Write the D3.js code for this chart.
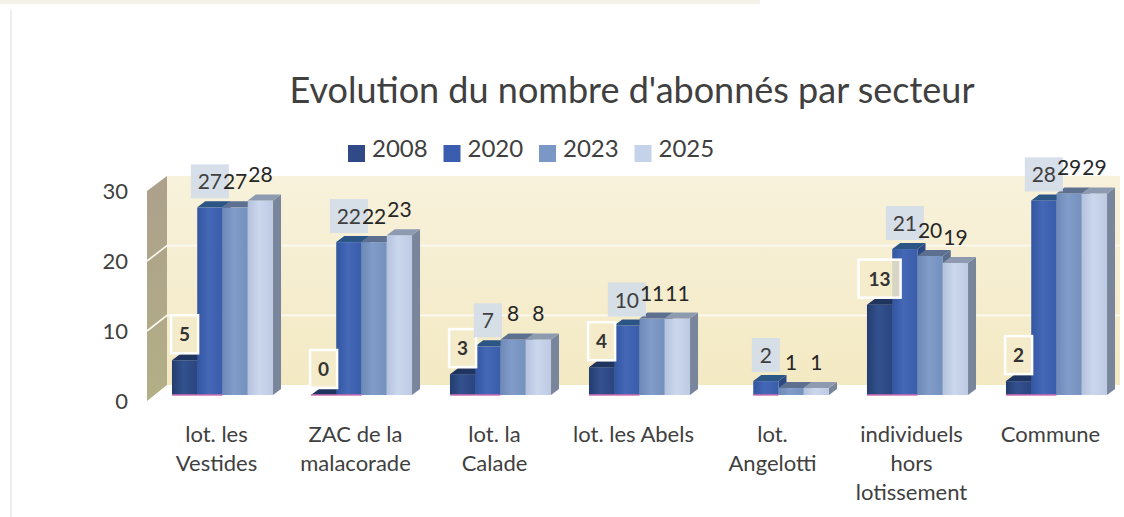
<!DOCTYPE html>
<html>
<head>
<meta charset="utf-8">
<script src="https://cdn.jsdelivr.net/npm/d3@7"></script>
<style>
    html, body { margin: 0; padding: 0; background: #fff; }
    svg { display: block; font-family: Lato, "Open Sans", sans-serif; }
</style>
</head>
<body>
<div id="chart"></div>
<script>
// données
const title = "Evolution du nombre d'abonnés par secteur";
const categories = ['lot. les\nVestides', 'ZAC de la\nmalacorade', 'lot. la\nCalade', 'lot. les Abels',
    'lot.\nAngelotti', 'individuels\nhors\nlotissement', 'Commune'];
const years = ['2008', '2020', '2023', '2025'];
const values2008 = [5, 0, 3, 4, null, 13, 2];
const values2020 = [27, 22, 7, 10, 2, 21, 28];
const values2023 = [27, 22, 8, 11, 1, 20, 29];
const values2025 = [28, 23, 8, 11, 1, 19, 29];
const yTicks = [0, 10, 20, 30];

const seriesValues = [values2008, values2020, values2023, values2025];

// couleurs par série : [face avant (dégradé), dessus, côté]
const seriesStyle = [
    {front: ['#243d70', '#33518e', '#2a4580'], top: '#1f3560', side: '#1c2f55', label: 'box', base: true},
    {front: ['#3356a2', '#4468b6', '#3a5dab'], top: '#2a5584', side: '#2c4984', label: 'fill', base: true},
    {front: ['#6d89b7', '#819cc9', '#7490bd'], top: '#5e708f', side: '#5b6d8d', label: 'plain', base: false},
    {front: ['#b4c2dd', '#cbd7ec', '#bdcae3'], top: '#8d9ab0', side: '#79859b', label: 'plain', base: false}
];
const legendColors = ['#2f4a86', '#3a5db0', '#7a97c6', '#c5d3ea'];

const width = 1124;
const height = 517;
const textColor = '#404040';
const depth = {x: 8, y: -6}; // profondeur des barres 3D

let svg = d3.select('#chart').append('svg')
    .attr('width', width)
    .attr('height', height);

let defs = svg.append('defs');

// échelles
const xGroup = d3.scaleBand().domain(categories).range([153, 1126])
    .paddingInner(0.273).paddingOuter(0.1365);
const xSeries = d3.scaleBand().domain(years).range([0, xGroup.bandwidth()]);
const yBar = d3.scaleLinear().domain([0, 30]).range([395, 186.5]);
const yFront = d3.scaleLinear().domain([0, 30]).range([401, 191]);
const yBack = d3.scaleLinear().domain([0, 30]).range([385, 176]);
const wallLeft = 147;
const wallBack = 167;
const wallRight = 1120;

drawScan();
drawWalls();
drawAxis();
drawBars();
drawLabels();
drawCategoryLabels();
drawTitle();
drawLegend();

/*
 * traces du scan (bord de page)
 */
function drawScan() {
    svg.append('rect')
        .attr('x', 0).attr('y', 0).attr('width', 760).attr('height', 4)
        .attr('fill', '#f6f2ea');
    svg.append('line')
        .attr('x1', 11).attr('x2', 11).attr('y1', 10).attr('y2', height)
        .attr('stroke', '#e3e7ee').attr('stroke-width', 1.5);
}

/*
 * fond du graphique : mur arrière et mur latéral
 */
function drawWalls() {
    let back = defs.append('linearGradient').attr('id', 'backWall')
        .attr('x1', 0).attr('y1', 0).attr('x2', 0).attr('y2', 1);
    back.append('stop').attr('offset', '0%').attr('stop-color', '#f8f2dc');
    back.append('stop').attr('offset', '100%').attr('stop-color', '#f3e9c3');

    let side = defs.append('linearGradient').attr('id', 'sideWall')
        .attr('x1', 0).attr('y1', 0).attr('x2', 0).attr('y2', 1);
    side.append('stop').attr('offset', '0%').attr('stop-color', '#aca08c');
    side.append('stop').attr('offset', '100%').attr('stop-color', '#b3af86');

    svg.append('rect')
        .attr('x', wallBack)
        .attr('y', yBack(30))
        .attr('width', wallRight - wallBack)
        .attr('height', yBack(0) - yBack(30))
        .attr('fill', 'url(#backWall)');

    svg.append('path')
        .attr('d', `M${wallLeft},${yFront(30)}L${wallBack},${yBack(30)}L${wallBack},${yBack(0)}L${wallLeft},${yFront(0)}Z`)
        .attr('fill', 'url(#sideWall)');

    // lignes de quadrillage
    svg.selectAll('.grid')
        .data(yTicks.filter(d => d > 0 && d < 30))
        .enter()
        .append('path')
        .attr('class', 'grid')
        .attr('d', d => `M${wallLeft},${yFront(d)}L${wallBack},${yBack(d)}L${wallRight},${yBack(d)}`)
        .attr('fill', 'none')
        .attr('stroke', '#fbf9f1')
        .attr('stroke-width', 1.6);
}

/*
 * axe vertical
 */
function drawAxis() {
    let axis = svg.append('g')
        .attr('transform', 'translate(136,0)')
        .call(d3.axisLeft(yFront).tickValues(yTicks).tickSize(0).tickPadding(8));
    axis.select('.domain').remove();
    axis.selectAll('text')
        .attr('font-size', '22px')
        .attr('font-family', 'Lato, sans-serif')
        .attr('fill', textColor);
}

/*
 * barres 3D
 */
function drawBars() {
    seriesStyle.forEach((s, i) => {
        let g = defs.append('linearGradient').attr('id', 'front' + i)
            .attr('x1', 0).attr('y1', 0).attr('x2', 1).attr('y2', 0);
        g.append('stop').attr('offset', '0%').attr('stop-color', s.front[0]);
        g.append('stop').attr('offset', '45%').attr('stop-color', s.front[1]);
        g.append('stop').attr('offset', '100%').attr('stop-color', s.front[2]);
    });

    categories.forEach((cat, c) => {
        let g = svg.append('g').attr('class', 'group');
        years.forEach((year, i) => {
            let v = seriesValues[i][c];
            if (v === null) {
                return;
            }
            let s = seriesStyle[i];
            let x0 = xGroup(cat) + xSeries(year);
            let x1 = x0 + xSeries.bandwidth();
            let yt = yBar(v);
            let yb = yBar(0);

            g.append('path') // côté
                .attr('d', `M${x1},${yt}L${x1 + depth.x},${yt + depth.y}L${x1 + depth.x},${yb + depth.y}L${x1},${yb}Z`)
                .attr('fill', s.side);
            g.append('rect') // face avant
                .attr('x', x0)
                .attr('y', yt)
                .attr('width', x1 - x0)
                .attr('height', yb - yt)
                .attr('fill', `url(#front${i})`);
            g.append('path') // dessus
                .attr('d', `M${x0},${yt}L${x1},${yt}L${x1 + depth.x},${yt + depth.y}L${x0 + depth.x},${yt + depth.y}Z`)
                .attr('fill', s.top);
            if (s.base) {
                g.append('line')
                    .attr('x1', x0).attr('x2', x1)
                    .attr('y1', yb).attr('y2', yb)
                    .attr('stroke', '#d070b4')
                    .attr('stroke-width', 1.5);
            }
        });
    });
}

/*
 * étiquettes de données
 */
function drawLabels() {
    years.forEach((year, i) => {
        let s = seriesStyle[i];
        categories.forEach((cat, c) => {
            let v = seriesValues[i][c];
            if (v === null) {
                return;
            }
            let cx = xGroup(cat) + xSeries(year) + xSeries.bandwidth() / 2;
            let yt = yBar(v);
            if (s.label === 'box') {
                let w = String(v).length > 1 ? 42 : 27;
                svg.append('rect')
                    .attr('x', cx - w / 2)
                    .attr('y', yt - 7 - 38)
                    .attr('width', w)
                    .attr('height', 38)
                    .attr('fill', '#f3ebca')
                    .attr('fill-opacity', 0.85)
                    .attr('stroke', '#ffffff')
                    .attr('stroke-width', 2.5);
                svg.append('text')
                    .attr('x', cx)
                    .attr('y', yt - 7 - 12)
                    .attr('text-anchor', 'middle')
                    .attr('font-size', '19px')
                    .attr('font-weight', 'bold')
                    .attr('fill', '#333333')
                    .text(v);
            } else if (s.label === 'fill') {
                let w = String(v).length > 1 ? 38 : 28;
                svg.append('rect')
                    .attr('x', cx - w / 2)
                    .attr('y', yt - 9 - 34)
                    .attr('width', w)
                    .attr('height', 34)
                    .attr('fill', '#d3dce8')
                    .attr('fill-opacity', 0.92);
                svg.append('text')
                    .attr('x', cx)
                    .attr('y', yt - 9 - 9)
                    .attr('text-anchor', 'middle')
                    .attr('font-size', '21px')
                    .attr('fill', textColor)
                    .text(v);
            } else {
                svg.append('text')
                    .attr('x', cx)
                    .attr('y', yt - 18)
                    .attr('text-anchor', 'middle')
                    .attr('font-size', '21px')
                    .attr('fill', '#262626')
                    .text(v);
            }
        });
    });
}

/*
 * libellés des secteurs
 */
function drawCategoryLabels() {
    categories.forEach((cat) => {
        let text = svg.append('text')
            .attr('x', xGroup(cat) + xGroup.bandwidth() / 2 - 6)
            .attr('y', 442)
            .attr('text-anchor', 'middle')
            .attr('font-size', '22px')
            .attr('fill', textColor);
        text.selectAll('tspan')
            .data(cat.split('\n'))
            .enter()
            .append('tspan')
            .attr('x', text.attr('x'))
            .attr('dy', (d, i) => i ? 29 : 0)
            .text(d => d);
    });
}

function drawTitle() {
    svg.append('text')
        .attr('x', 632)
        .attr('y', 103)
        .attr('text-anchor', 'middle')
        .attr('font-size', '36px')
        .attr('fill', textColor)
        .text(title);
}

function drawLegend() {
    let item = svg.selectAll('.legend')
        .data(years)
        .enter()
        .append('g')
        .attr('class', 'legend')
        .attr('transform', (d, i) => `translate(${348 + i * 95.5},0)`);
    item.append('rect')
        .attr('x', 0).attr('y', 145)
        .attr('width', 17).attr('height', 17)
        .attr('fill', (d, i) => legendColors[i]);
    item.append('text')
        .attr('x', 24)
        .attr('y', 157)
        .attr('font-size', '24px')
        .attr('fill', textColor)
        .text(d => d);
}
</script>
</body>
</html>
